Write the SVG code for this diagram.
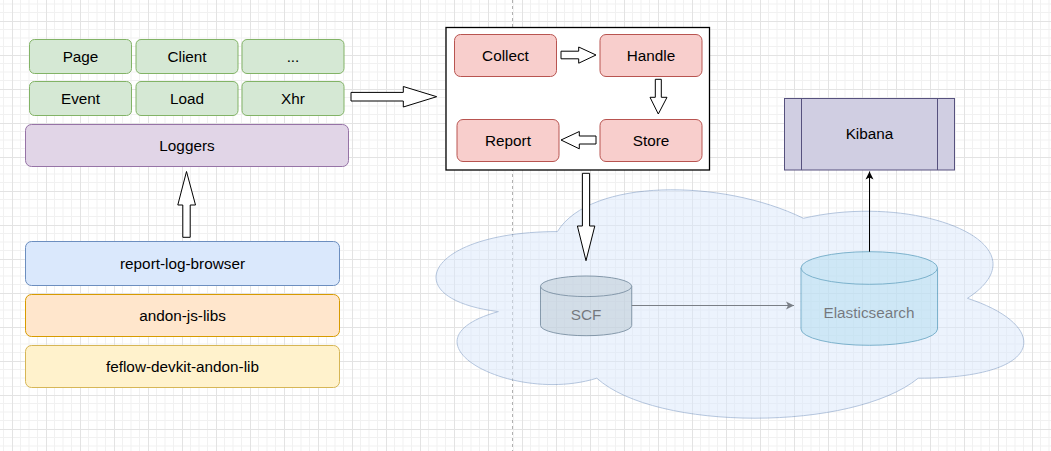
<svg xmlns="http://www.w3.org/2000/svg" width="1051" height="451" viewBox="0 0 1051 451">
<style>
text{font-family:"Liberation Sans",Arial,sans-serif;font-size:15.3px;fill:#000;text-anchor:middle}
.g{fill:#d5e8d4;stroke:#82b366;stroke-width:1}
.red{fill:#f8cecc;stroke:#b85450;stroke-width:1}
.blk{fill:#fff;stroke:#000;stroke-width:1;stroke-linejoin:miter}
</style>
<defs>
<pattern id="grid" patternUnits="userSpaceOnUse" x="12" y="21" width="34" height="34">
<path d="M8.5 0V34M17 0V34M25.5 0V34M0 8.5H34M0 17H34M0 25.5H34" stroke="#f1f1f1" stroke-width="1" fill="none"/>
<path d="M0.5 0V34M0 0.5H34" stroke="#e3e3e3" stroke-width="1" fill="none"/>
</pattern>
<marker id="ah" markerWidth="10" markerHeight="10" refX="8" refY="5" orient="auto" markerUnits="userSpaceOnUse">
<path d="M0,1 L8,5 L0,9 L2,5 Z" fill="context-stroke"/>
</marker>
<marker id="ahk" markerWidth="10" markerHeight="10" refX="8" refY="5" orient="auto" markerUnits="userSpaceOnUse">
<path d="M0,1 L8,5 L0,9 L2,5 Z" fill="#000"/>
</marker>
<marker id="ahg" markerWidth="10" markerHeight="10" refX="8" refY="5" orient="auto" markerUnits="userSpaceOnUse">
<path d="M0,1 L8,5 L0,9 L2,5 Z" fill="#7a7f86"/>
</marker>
</defs>
<rect width="1051" height="451" fill="#fff"/>
<rect width="1051" height="451" fill="url(#grid)"/>
<line x1="512.5" y1="0" x2="512.5" y2="451" stroke="#b0b0b0" stroke-width="1" stroke-dasharray="3 3"/>

<g id="cloud" opacity="0.5">
<path d="M557.4,231.6 C426.2,231.6 393.4,298.6 498.4,311.6 C393.4,340.9 511.5,404.9 596.8,378.2 C655.8,431.5 852.6,431.5 918.2,378.2 C1049.4,378.2 1049.4,324.9 967.4,298.3 C1049.4,245 918.2,191.7 803.4,218.3 C721.4,178.3 590.2,178.3 557.4,231.6 Z" fill="#dae8fc" stroke="#6c8ebf" stroke-width="1"/>
</g>

<g id="page"><rect class="g" x="29.5" y="39.5" width="102" height="34" rx="5"/><text x="80.5" y="61.8">Page</text></g>
<g id="client"><rect class="g" x="136" y="39.5" width="102" height="34" rx="5"/><text x="187" y="61.8">Client</text></g>
<g id="more"><rect class="g" x="242" y="39.5" width="102" height="34" rx="5"/><text x="293" y="61.8">...</text></g>
<g id="event"><rect class="g" x="29.5" y="81.5" width="102" height="34" rx="5"/><text x="80.5" y="103.8">Event</text></g>
<g id="load"><rect class="g" x="136" y="81.5" width="102" height="34" rx="5"/><text x="187" y="103.8">Load</text></g>
<g id="xhr"><rect class="g" x="242" y="81.5" width="102" height="34" rx="5"/><text x="293" y="103.8">Xhr</text></g>
<g id="loggers"><rect x="25.5" y="124.5" width="323" height="42" rx="6" fill="#e1d5e7" stroke="#9673a6"/><text x="187" y="150.8">Loggers</text></g>
<g id="report-log-browser"><rect x="25.5" y="241.5" width="314" height="44" rx="6" fill="#dae8fc" stroke="#6c8ebf"/><text x="182.5" y="268.8">report-log-browser</text></g>
<g id="andon-js-libs"><rect x="25.5" y="294.5" width="314" height="42" rx="6" fill="#ffe6cc" stroke="#d79b00"/><text x="182.5" y="320.8">andon-js-libs</text></g>
<g id="feflow-devkit-andon-lib"><rect x="25.5" y="345.5" width="314" height="42" rx="6" fill="#fff2cc" stroke="#d6b656"/><text x="182.5" y="371.8">feflow-devkit-andon-lib</text></g>

<g id="pipeline"><rect x="446" y="27.5" width="263.5" height="142.5" fill="#fff" stroke="#000" stroke-width="1.3"/></g>
<g id="collect"><rect class="red" x="454.5" y="34.5" width="102" height="42" rx="6"/><text x="505.5" y="60.8">Collect</text></g>
<g id="handle"><rect class="red" x="600" y="34.5" width="102" height="42" rx="6"/><text x="651" y="60.8">Handle</text></g>
<g id="report"><rect class="red" x="457" y="119.5" width="102" height="42" rx="6"/><text x="508" y="145.8">Report</text></g>
<g id="store"><rect class="red" x="600" y="119.5" width="102" height="42" rx="6"/><text x="651" y="145.8">Store</text></g>

<g id="kibana">
<rect x="784.5" y="98.5" width="170" height="71.5" fill="#d0cee2" stroke="#56517e"/>
<line x1="801.5" y1="98.5" x2="801.5" y2="170" stroke="#56517e"/>
<line x1="937.5" y1="98.5" x2="937.5" y2="170" stroke="#56517e"/>
<text x="869.5" y="139">Kibana</text>
</g>

<g id="scf" opacity="0.5">
<path d="M540.5,286.3 A45.6,10.3 0 0 1 631.7,286.3 L631.7,325.4 A45.6,10.3 0 0 1 540.5,325.4 Z" fill="#bac8d3" stroke="#23445d"/>
<path d="M540.5,286.3 A45.6,10.3 0 0 0 631.7,286.3" fill="none" stroke="#23445d"/>
<text x="586" y="319.5">SCF</text>
</g>
<g id="elasticsearch" opacity="0.5">
<path d="M801,268 A68.2,16.3 0 0 1 937.5,268 L937.5,329 A68.2,16.3 0 0 1 801,329 Z" fill="#b1ddf0" stroke="#10739e"/>
<path d="M801,268 A68.2,16.3 0 0 0 937.5,268" fill="none" stroke="#10739e"/>
<text x="869" y="318">Elasticsearch</text>
</g>

<g id="connectors">
<polygon class="blk" points="351,92.4 403.3,92.4 403.3,86.5 436.7,96.7 403.3,107 403.3,101 351,101"/>
<polygon class="blk" points="561,51.2 578.7,51.2 578.7,47 596,55 578.7,63.2 578.7,58.8 561,58.8"/>
<polygon class="blk" points="655.3,79.3 661.3,79.3 661.3,97.3 667,97.3 658.3,114 650,97.3 655.3,97.3"/>
<polygon class="blk" points="596,136 579.3,136 579.3,131.5 561,140 579.3,148.8 579.3,144 596,144"/>
<polygon class="blk" points="182.8,237.3 190.2,237.3 190.2,205 195.5,205 186.5,171.5 177.8,205 182.8,205"/>
<polygon class="blk" points="582.4,173.3 589.6,173.3 589.6,226 594.8,226 586,260.7 577.4,226 582.4,226"/>
<line x1="631.7" y1="305.5" x2="794" y2="305.5" stroke="#7a7f86" stroke-width="1" marker-end="url(#ahg)"/>
<line x1="869.5" y1="251.7" x2="869.5" y2="171.5" stroke="#000" stroke-width="1" marker-end="url(#ahk)"/>
</g>
</svg>
